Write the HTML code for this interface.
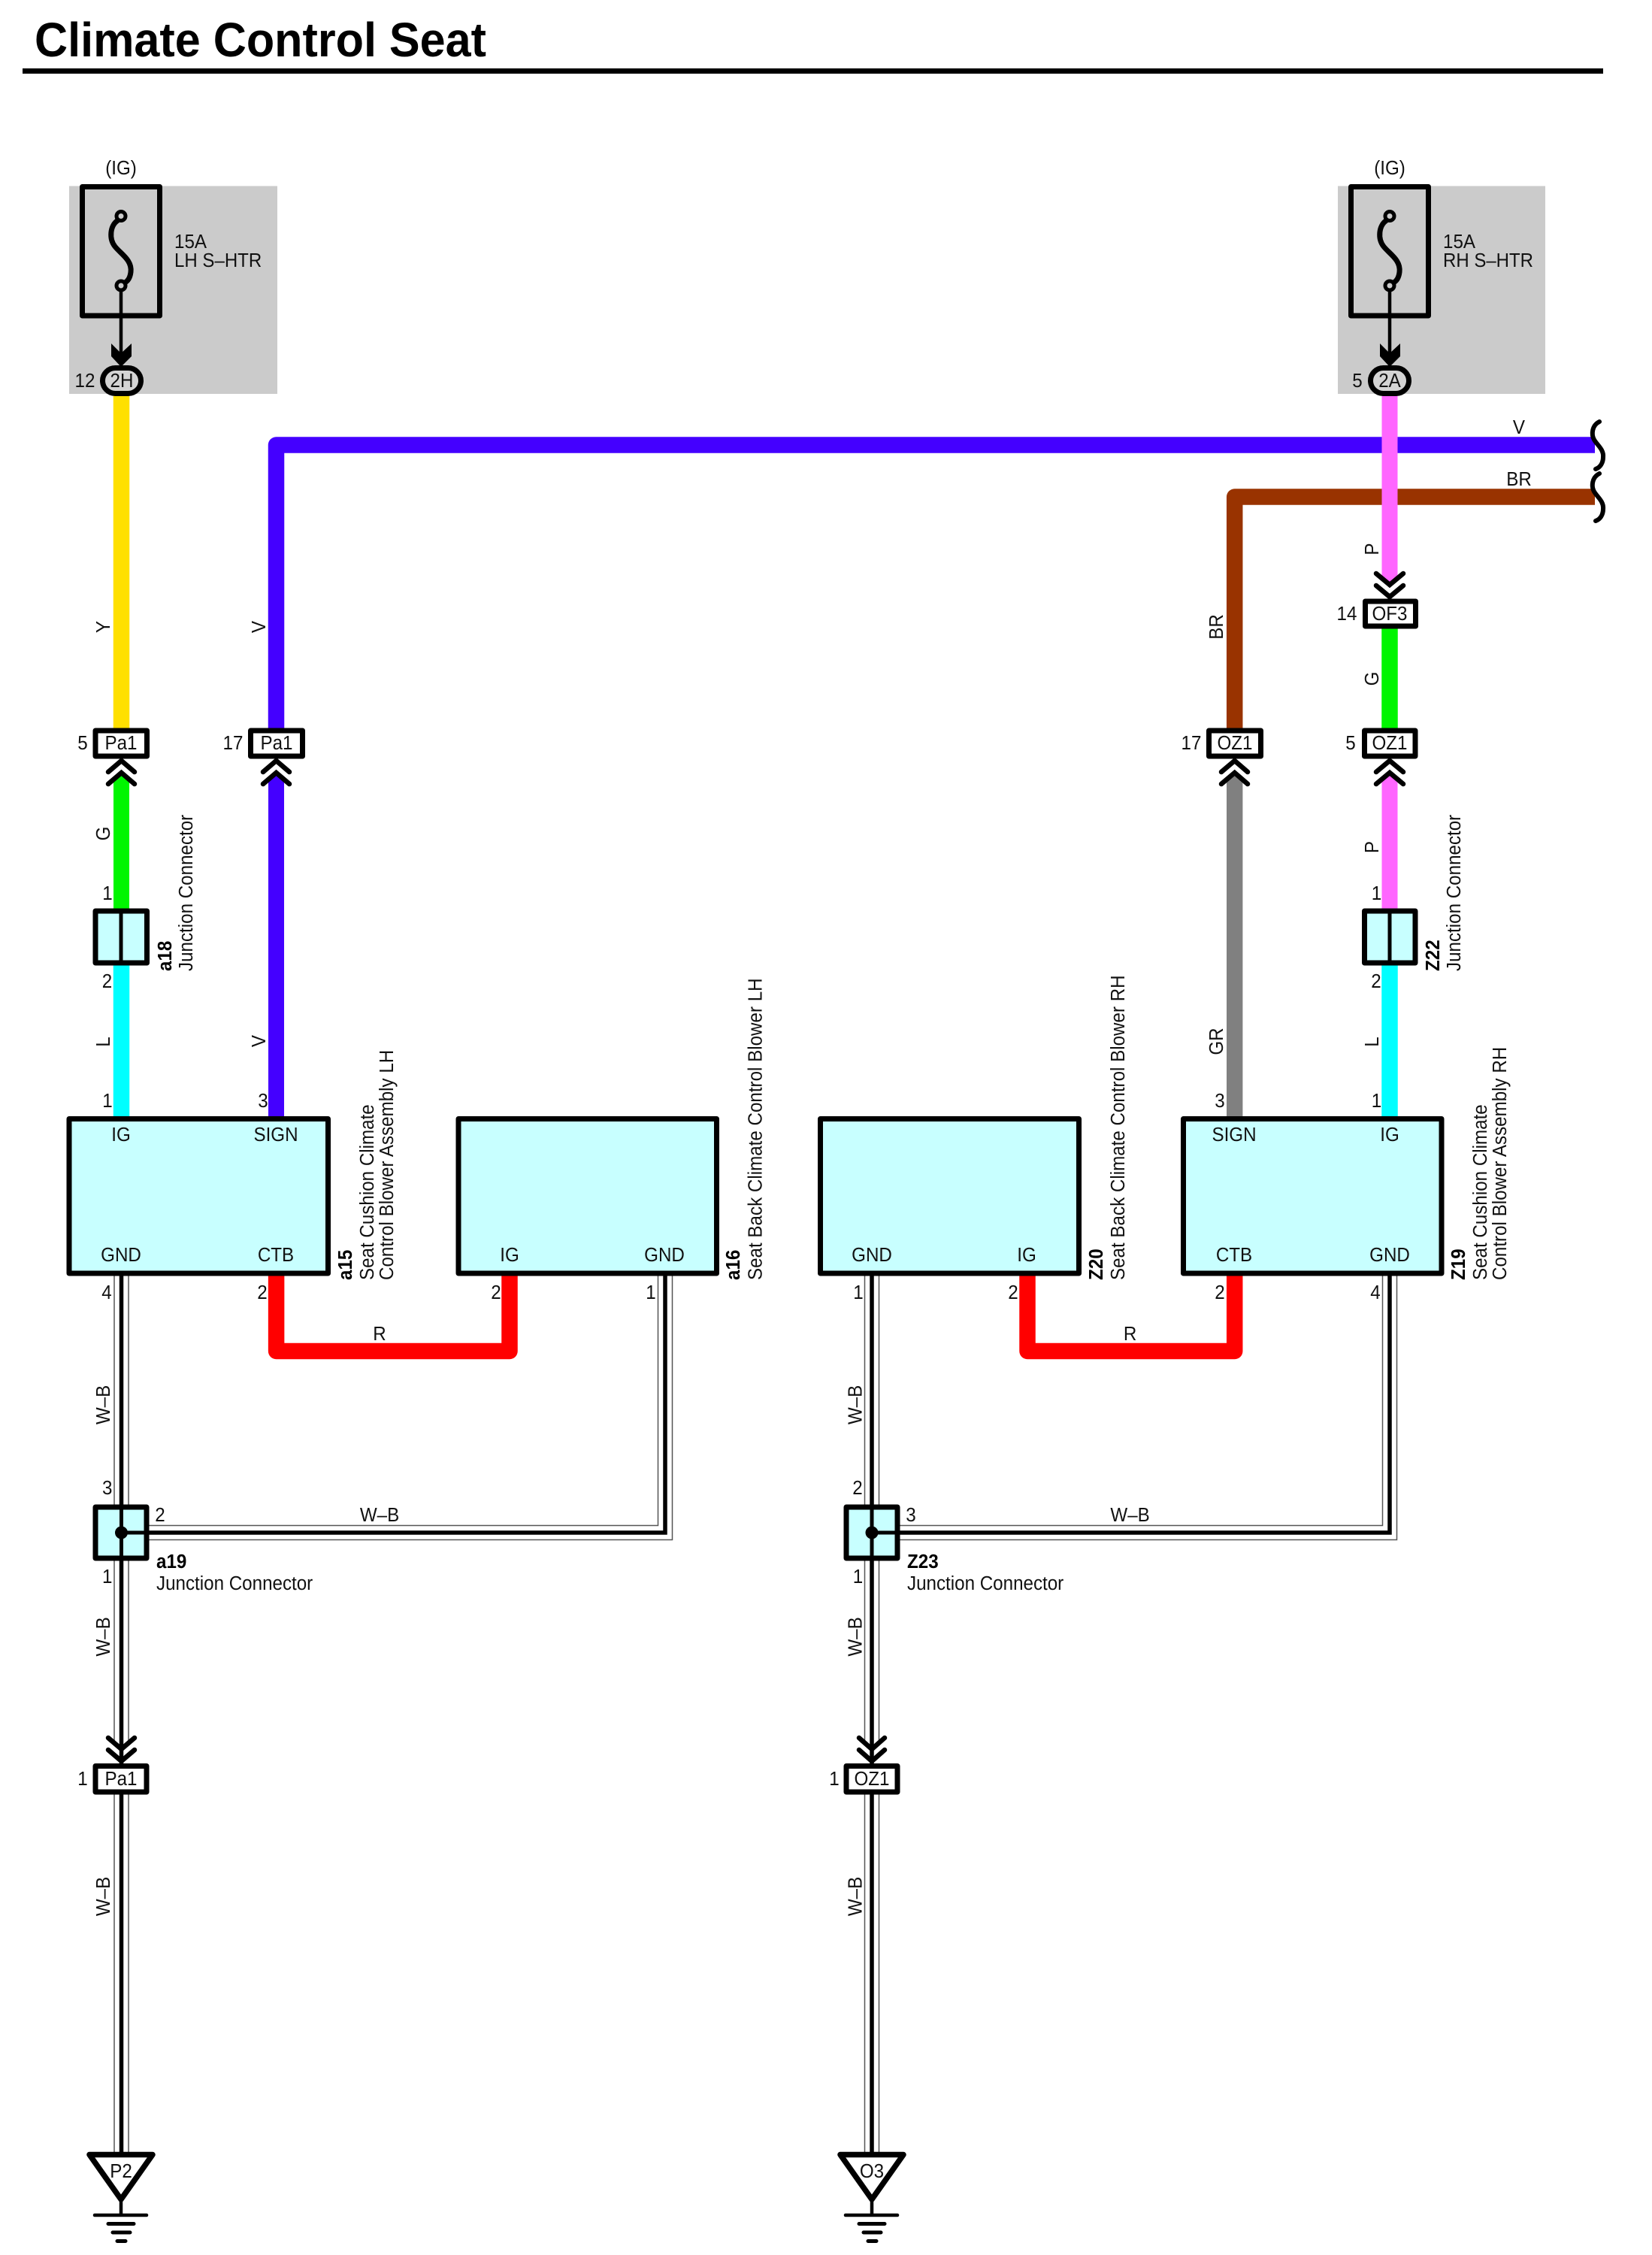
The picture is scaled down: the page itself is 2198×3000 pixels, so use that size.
<!DOCTYPE html>
<html lang="en">
<head>
<meta charset="utf-8">
<title>Climate Control Seat</title>
<style>
html,body{margin:0;padding:0;background:#fff}
svg{display:block}
text{font-family:"Liberation Sans",Arial,sans-serif;font-size:26px;fill:#111}
.m{text-anchor:middle}
.b{font-weight:bold;fill:#000}
.box{stroke:#000;stroke-width:7;stroke-linejoin:round}
.mod{fill:#c8ffff}
.wh{fill:#fff}
.w{fill:none;stroke-width:21.5;stroke-linejoin:round;stroke-linecap:butt}
.o1{fill:none;stroke:#555;stroke-width:20.5;stroke-linejoin:miter}
.o2{fill:none;stroke:#fff;stroke-width:17.5;stroke-linejoin:miter}
.o3{fill:none;stroke:#000;stroke-width:5.5;stroke-linejoin:miter}
.ch{fill:none;stroke:#000;stroke-width:6.5;stroke-linecap:round;stroke-linejoin:miter}
.blk{fill:none;stroke:#000}
</style>
</head>
<body>
<svg xmlns="http://www.w3.org/2000/svg" width="2198" height="3000" viewBox="0 0 2198 3000">
<rect width="2198" height="3000" fill="#fff"/>

<!-- title -->
<text transform="translate(46,75) scale(.955,1)" class="b" style="font-size:64px">Climate Control Seat</text>
<rect x="30" y="91" width="2103" height="7" fill="#000"/>

<!-- fuse backgrounds -->
<rect x="92" y="247.5" width="277" height="276.5" fill="#cbcbcb"/>
<rect x="1780" y="247.5" width="276" height="276.5" fill="#cbcbcb"/>

<!-- coloured wires -->
<path class="w" stroke="#ffe000" d="M161.5,525V970"/>
<polygon fill="#00f500" points="151,1210 151,1037 161.5,1028 172,1037 172,1210"/>
<path class="w" stroke="#00ffff" d="M161.5,1283V1486"/>
<polygon fill="#4400ff" points="357,1486 357,1037 367.5,1028 378,1037 378,1486"/>
<path class="w" stroke="#4400ff" d="M367.5,970V592H2122"/>
<path class="w" stroke="#993300" d="M1642.7,970V661H2122"/>
<polygon fill="#808080" points="1632,1486 1632,1037 1642.7,1028 1653.4,1037 1653.4,1486"/>
<polygon fill="#ff66ff" points="1838.5,524 1859.5,524 1859.5,768 1849,777 1838.5,768"/>
<path class="w" stroke="#00f500" d="M1849,834V970"/>
<polygon fill="#ff66ff" points="1838.5,1210 1838.5,1037 1849,1028 1859.5,1037 1859.5,1210"/>
<path class="w" stroke="#00ffff" d="M1849,1283V1486"/>
<path class="w" stroke="#f00" d="M367.6,1696V1797.5H678V1696"/>
<path class="w" stroke="#f00" d="M1367,1696V1797.5H1642.7V1696"/>

<!-- W-B double wires -->
<g>
<path class="o1" d="M161.5,1697V2320"/><path class="o1" d="M161.5,2386V2864"/>
<path class="o1" d="M1160,1697V2320"/><path class="o1" d="M1160,2386V2864"/>
<path class="o1" d="M885,1697V2039H197"/>
<path class="o1" d="M1849,1697V2039H1197"/>
<path class="o2" d="M161.5,1697V2322"/><path class="o2" d="M161.5,2386V2866"/>
<path class="o2" d="M1160,1697V2322"/><path class="o2" d="M1160,2386V2866"/>
<path class="o2" d="M885,1697V2039H197"/>
<path class="o2" d="M1849,1697V2039H1197"/>
<path class="o3" d="M161.5,1697V2346"/><path class="o3" d="M161.5,2386V2866"/>
<path class="o3" d="M1160,1697V2346"/><path class="o3" d="M1160,2386V2866"/>
<path class="o3" d="M885,1697V2039H197"/>
<path class="o3" d="M1849,1697V2039H1197"/>
</g>

<!-- wire break squiggles -->
<path class="blk" stroke-width="6" stroke-linecap="round" d="M2128,561C2118,566 2117,578 2121,585C2125,592 2134,598 2133,608C2133,616 2129,622 2123,624"/>
<path class="blk" stroke-width="6" stroke-linecap="round" d="M2128,630C2118,635 2117,647 2121,654C2125,661 2134,667 2133,677C2133,685 2129,691 2123,693"/>

<!-- fuses -->
<g>
<rect class="box" x="109.5" y="248.5" width="103" height="171.5" fill="none"/>
<path class="blk" stroke-width="7" d="M157,293C146,300 145,318 153,328C161,338 176,346 174,362C173,370 170,374 166,376"/>
<circle cx="161" cy="287.5" r="6" fill="#cbcbcb" stroke="#000" stroke-width="5"/>
<circle cx="161" cy="380" r="6" fill="#cbcbcb" stroke="#000" stroke-width="5"/>
<path class="blk" stroke-width="4.5" d="M161,386V470"/>
<polygon points="148,457 161,470 175,457 175,474 161,488 148,474" fill="#000"/>
<rect x="136.5" y="489.5" width="51" height="34" rx="17" fill="#d4d4d4" stroke="#000" stroke-width="7"/>
</g>
<g>
<rect class="box" x="1797.5" y="248.5" width="103" height="171.5" fill="none"/>
<path class="blk" stroke-width="7" d="M1845,293C1834,300 1833,318 1841,328C1849,338 1864,346 1862,362C1861,370 1858,374 1854,376"/>
<circle cx="1849" cy="287.5" r="6" fill="#cbcbcb" stroke="#000" stroke-width="5"/>
<circle cx="1849" cy="380" r="6" fill="#cbcbcb" stroke="#000" stroke-width="5"/>
<path class="blk" stroke-width="4.5" d="M1849,386V470"/>
<polygon points="1836,457 1849,470 1863,457 1863,474 1849,488 1836,474" fill="#000"/>
<rect x="1823.5" y="489.5" width="51" height="34" rx="17" fill="#d4d4d4" stroke="#000" stroke-width="7"/>
</g>
<text class="m" transform="translate(161,232) scale(.93,1)">(IG)</text>
<text class="m" transform="translate(1849,232) scale(.93,1)">(IG)</text>
<text transform="translate(232,330) scale(.93,1)">15A</text>
<text transform="translate(232,355) scale(.93,1)" textLength="125" lengthAdjust="spacingAndGlyphs">LH S–HTR</text>
<text transform="translate(1920,330) scale(.93,1)">15A</text>
<text transform="translate(1920,355) scale(.93,1)" textLength="129" lengthAdjust="spacingAndGlyphs">RH S–HTR</text>
<text class="m" transform="translate(162,515) scale(.93,1)">2H</text>
<text class="m" transform="translate(1849,515) scale(.93,1)">2A</text>
<text class="m" transform="translate(113,515) scale(.93,1)">12</text>
<text class="m" transform="translate(1806,515) scale(.93,1)">5</text>

<!-- connector boxes -->
<g class="box wh">
<rect x="127" y="972" width="68.5" height="34"/>
<rect x="333.5" y="972" width="69" height="34"/>
<rect x="1608.5" y="972" width="69" height="34"/>
<rect x="1815.5" y="972" width="67.5" height="34"/>
<rect x="1816.5" y="800" width="67" height="33"/>
<rect x="127" y="2349.5" width="68" height="34.5"/>
<rect x="1126" y="2349.5" width="68" height="34.5"/>
</g>
<text class="m" transform="translate(161,997) scale(.93,1)">Pa1</text>
<text class="m" transform="translate(368,997) scale(.93,1)">Pa1</text>
<text class="m" transform="translate(1643,997) scale(.93,1)">OZ1</text>
<text class="m" transform="translate(1849,997) scale(.93,1)">OZ1</text>
<text class="m" transform="translate(1849,825) scale(.93,1)">OF3</text>
<text class="m" transform="translate(161,2375) scale(.93,1)">Pa1</text>
<text class="m" transform="translate(1160,2375) scale(.93,1)">OZ1</text>
<text class="m" transform="translate(110,997) scale(.93,1)">5</text>
<text class="m" transform="translate(310,997) scale(.93,1)">17</text>
<text class="m" transform="translate(1585,997) scale(.93,1)">17</text>
<text class="m" transform="translate(1797,997) scale(.93,1)">5</text>
<text class="m" transform="translate(1792,825) scale(.93,1)">14</text>
<text class="m" transform="translate(110,2375) scale(.93,1)">1</text>
<text class="m" transform="translate(1110,2375) scale(.93,1)">1</text>

<!-- chevrons -->
<path class="ch" d="M144,1027L161.5,1012L179,1027M144,1043L161.5,1028L179,1043"/>
<path class="ch" d="M350,1027L367.5,1012L385,1027M350,1043L367.5,1028L385,1043"/>
<path class="ch" d="M1625,1027L1642.7,1012L1660,1027M1625,1043L1642.7,1028L1660,1043"/>
<path class="ch" d="M1831,1027L1849,1012L1867,1027M1831,1043L1849,1028L1867,1043"/>
<path class="ch" d="M1831,763L1849,778L1867,763M1831,779L1849,794L1867,779"/>
<path class="ch" d="M144,2312L161.5,2327L179,2312M144,2328L161.5,2343L179,2328"/>
<path class="ch" d="M1143,2312L1160,2327L1177,2312M1143,2328L1160,2343L1177,2328"/>

<!-- inline junctions -->
<rect class="box mod" x="127" y="1212" width="68.5" height="69"/>
<path class="blk" stroke-width="5" d="M161,1212V1281"/>
<rect class="box mod" x="1815.5" y="1212" width="67.5" height="69"/>
<path class="blk" stroke-width="5" d="M1849,1212V1281"/>

<!-- modules -->
<rect class="box mod" x="92" y="1488.5" width="344.5" height="205.5"/>
<rect class="box mod" x="610" y="1488.5" width="343.5" height="205.5"/>
<rect class="box mod" x="1091.5" y="1488.5" width="344" height="205.5"/>
<rect class="box mod" x="1574.5" y="1488.5" width="343.5" height="205.5"/>
<text class="m" transform="translate(161,1518) scale(.93,1)">IG</text>
<text class="m" transform="translate(367,1518) scale(.93,1)">SIGN</text>
<text class="m" transform="translate(161,1678) scale(.93,1)">GND</text>
<text class="m" transform="translate(367,1678) scale(.93,1)">CTB</text>
<text class="m" transform="translate(678,1678) scale(.93,1)">IG</text>
<text class="m" transform="translate(884,1678) scale(.93,1)">GND</text>
<text class="m" transform="translate(1160,1678) scale(.93,1)">GND</text>
<text class="m" transform="translate(1366,1678) scale(.93,1)">IG</text>
<text class="m" transform="translate(1642,1518) scale(.93,1)">SIGN</text>
<text class="m" transform="translate(1849,1518) scale(.93,1)">IG</text>
<text class="m" transform="translate(1642,1678) scale(.93,1)">CTB</text>
<text class="m" transform="translate(1849,1678) scale(.93,1)">GND</text>

<!-- star junctions -->
<rect class="box mod" x="127" y="2005" width="68" height="68"/>
<path class="blk" stroke-width="5" d="M161.5,2005V2073M161.5,2039H195"/>
<circle cx="161.5" cy="2039" r="8.5" fill="#000"/>
<rect class="box mod" x="1126" y="2005" width="68" height="68"/>
<path class="blk" stroke-width="5" d="M1160,2005V2073M1160,2039H1194"/>
<circle cx="1160" cy="2039" r="8.5" fill="#000"/>

<!-- grounds -->
<g>
<polygon points="119,2866.5 203,2866.5 161,2926" fill="#fff" stroke="#000" stroke-width="7.5" stroke-linejoin="round"/>
<path class="blk" stroke-width="4.5" d="M161,2926V2947"/>
<path class="blk" stroke-width="4.5" stroke-linecap="round" d="M126,2947H195"/>
<path class="blk" stroke-width="5" stroke-linecap="round" d="M144,2958.5H178M150,2970H173M156,2981.5H167"/>
</g>
<g transform="translate(999,0)">
<polygon points="119,2866.5 203,2866.5 161,2926" fill="#fff" stroke="#000" stroke-width="7.5" stroke-linejoin="round"/>
<path class="blk" stroke-width="4.5" d="M161,2926V2947"/>
<path class="blk" stroke-width="4.5" stroke-linecap="round" d="M126,2947H195"/>
<path class="blk" stroke-width="5" stroke-linecap="round" d="M144,2958.5H178M150,2970H173M156,2981.5H167"/>
</g>
<text class="m" transform="translate(161,2897) scale(.93,1)">P2</text>
<text class="m" transform="translate(1160,2897) scale(.93,1)">O3</text>

<!-- pin numbers -->
<text class="m" transform="translate(143,1197) scale(.93,1)">1</text>
<text class="m" transform="translate(142.5,1314) scale(.93,1)">2</text>
<text class="m" transform="translate(143,1473) scale(.93,1)">1</text>
<text class="m" transform="translate(350,1473) scale(.93,1)">3</text>
<text class="m" transform="translate(1623,1473) scale(.93,1)">3</text>
<text class="m" transform="translate(1831.5,1473) scale(.93,1)">1</text>
<text class="m" transform="translate(1831.5,1197) scale(.93,1)">1</text>
<text class="m" transform="translate(1831,1314) scale(.93,1)">2</text>
<text class="m" transform="translate(142,1728) scale(.93,1)">4</text>
<text class="m" transform="translate(349,1728) scale(.93,1)">2</text>
<text class="m" transform="translate(660,1728) scale(.93,1)">2</text>
<text class="m" transform="translate(866,1728) scale(.93,1)">1</text>
<text class="m" transform="translate(1142,1728) scale(.93,1)">1</text>
<text class="m" transform="translate(1348,1728) scale(.93,1)">2</text>
<text class="m" transform="translate(1623,1728) scale(.93,1)">2</text>
<text class="m" transform="translate(1830,1728) scale(.93,1)">4</text>
<text class="m" transform="translate(142.7,1988) scale(.93,1)">3</text>
<text class="m" transform="translate(213,2024) scale(.93,1)">2</text>
<text class="m" transform="translate(142.7,2106) scale(.93,1)">1</text>
<text class="m" transform="translate(1141,1988) scale(.93,1)">2</text>
<text class="m" transform="translate(1212,2024) scale(.93,1)">3</text>
<text class="m" transform="translate(1141.5,2106) scale(.93,1)">1</text>

<!-- horizontal wire labels -->
<text class="m" transform="translate(2021,577) scale(.93,1)">V</text>
<text class="m" transform="translate(2021,646) scale(.93,1)">BR</text>
<text class="m" transform="translate(505,1783) scale(.93,1)">R</text>
<text class="m" transform="translate(1503.6,1783) scale(.93,1)">R</text>
<text class="m" transform="translate(505,2024) scale(.93,1)">W–B</text>
<text class="m" transform="translate(1503.6,2024) scale(.93,1)">W–B</text>

<!-- vertical wire labels -->
<text class="m" transform="translate(146,834) rotate(-90) scale(.93,1)">Y</text>
<text class="m" transform="translate(353,834) rotate(-90) scale(.93,1)">V</text>
<text class="m" transform="translate(146,1109) rotate(-90) scale(.93,1)">G</text>
<text class="m" transform="translate(146,1386) rotate(-90) scale(.93,1)">L</text>
<text class="m" transform="translate(353,1385) rotate(-90) scale(.93,1)">V</text>
<text class="m" transform="translate(146,1869) rotate(-90) scale(.93,1)">W–B</text>
<text class="m" transform="translate(146,2177.5) rotate(-90) scale(.93,1)">W–B</text>
<text class="m" transform="translate(146,2523) rotate(-90) scale(.93,1)">W–B</text>
<text class="m" transform="translate(1146.5,1869) rotate(-90) scale(.93,1)">W–B</text>
<text class="m" transform="translate(1146.5,2177.5) rotate(-90) scale(.93,1)">W–B</text>
<text class="m" transform="translate(1146.5,2523) rotate(-90) scale(.93,1)">W–B</text>
<text class="m" transform="translate(1627,834) rotate(-90) scale(.93,1)">BR</text>
<text class="m" transform="translate(1627,1385.5) rotate(-90) scale(.93,1)">GR</text>
<text class="m" transform="translate(1834,730.5) rotate(-90) scale(.93,1)">P</text>
<text class="m" transform="translate(1834,903) rotate(-90) scale(.93,1)">G</text>
<text class="m" transform="translate(1834,1127) rotate(-90) scale(.93,1)">P</text>
<text class="m" transform="translate(1834,1386) rotate(-90) scale(.93,1)">L</text>

<!-- component labels -->
<text class="b" transform="translate(228,1292) rotate(-90) scale(.93,1)">a18</text>
<text transform="translate(256,1292) rotate(-90) scale(.93,1)">Junction Connector</text>
<text class="b" transform="translate(1915,1292) rotate(-90) scale(.93,1)">Z22</text>
<text transform="translate(1943,1292) rotate(-90) scale(.93,1)">Junction Connector</text>
<text class="b" transform="translate(468,1703) rotate(-90) scale(.93,1)">a15</text>
<text transform="translate(497,1703) rotate(-90) scale(.93,1)">Seat Cushion Climate</text>
<text transform="translate(523,1703) rotate(-90) scale(.93,1)">Control Blower Assembly LH</text>
<text class="b" transform="translate(984,1703) rotate(-90) scale(.93,1)">a16</text>
<text transform="translate(1013.5,1703) rotate(-90) scale(.93,1)">Seat Back Climate Control Blower LH</text>
<text class="b" transform="translate(1467,1703) rotate(-90) scale(.93,1)">Z20</text>
<text transform="translate(1496,1703) rotate(-90) scale(.93,1)">Seat Back Climate Control Blower RH</text>
<text class="b" transform="translate(1949,1703) rotate(-90) scale(.93,1)">Z19</text>
<text transform="translate(1978,1703) rotate(-90) scale(.93,1)">Seat Cushion Climate</text>
<text transform="translate(2004,1703) rotate(-90) scale(.93,1)">Control Blower Assembly RH</text>
<text class="b" transform="translate(208,2086) scale(.93,1)">a19</text>
<text transform="translate(208,2115) scale(.93,1)">Junction Connector</text>
<text class="b" transform="translate(1207,2086) scale(.93,1)">Z23</text>
<text transform="translate(1207,2115) scale(.93,1)">Junction Connector</text>
</svg>
</body>
</html>
